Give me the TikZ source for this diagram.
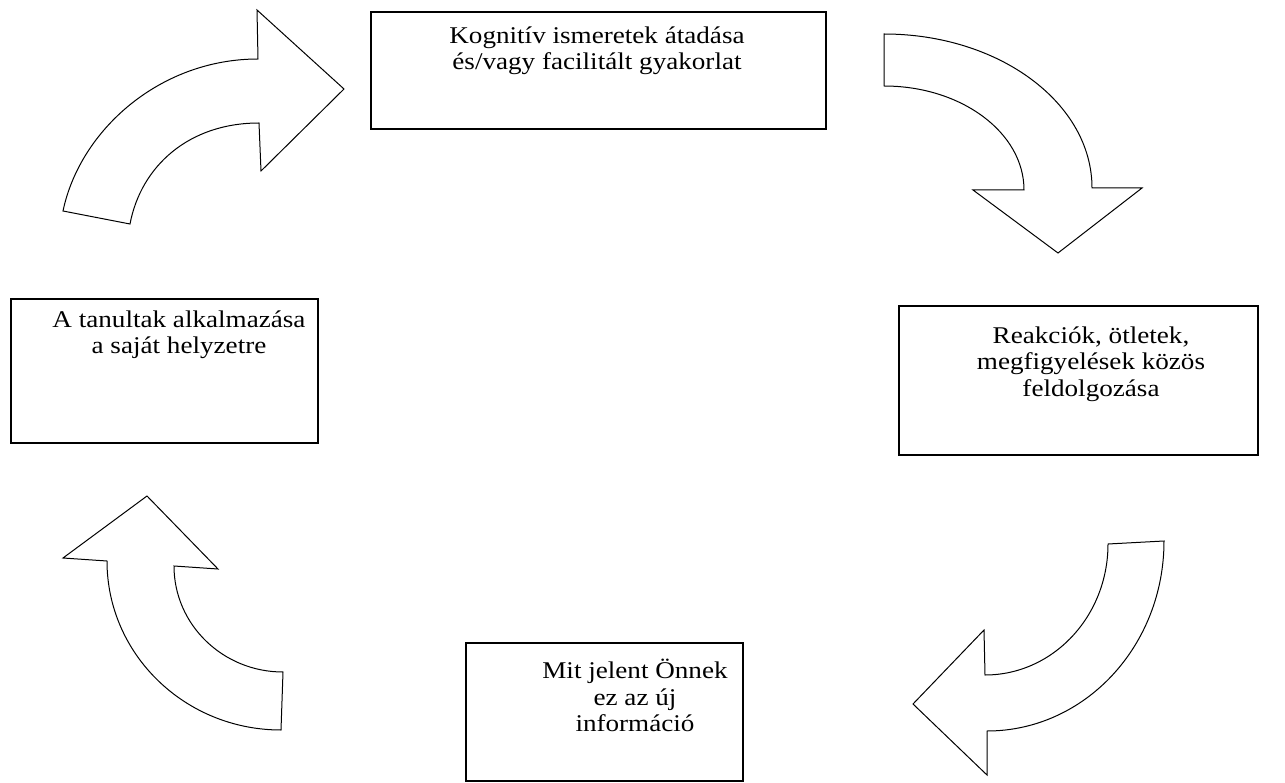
\documentclass[tikz,border=0pt]{standalone}
\usepackage{fontspec}
\setmainfont{Liberation Serif}[FakeStretch=1.13]
\begin{document}
\begin{tikzpicture}[x=1pt,y=-1pt,
  box/.style={draw=black,line width=1.3pt,fill=white,inner sep=0pt},
  txt/.style={anchor=north,align=center,inner sep=0pt,font=\fontsize{24}{26.5}\selectfont},
  bentarrow/.style={draw=black,line width=1pt,fill=white,line join=miter}]
\useasboundingbox (0,0) rectangle (1285,783);
% boxes
\node[box,minimum width=455pt,minimum height=117pt] (k1) at (598.5,70.5) {};
\node[box,minimum width=307pt,minimum height=144pt] (k2) at (164.5,371) {};
\node[box,minimum width=359pt,minimum height=149pt] (k3) at (1078.5,380.5) {};
\node[box,minimum width=277pt,minimum height=138pt] (k4) at (604.5,712) {};
% texts
\node[txt] (t1) at (597,24.5) {\strut Kognitív ismeretek átadása\\és/vagy facilitált gyakorlat};
\node[txt] (t2) at (179,308.5) {\strut A tanultak alkalmazása\\a saját helyzetre};
\node[txt] (t3) at (1091,324.5) {\strut Reakciók, ötletek,\\megfigyelések közös\\feldolgozása};
\node[txt] (t4) at (635,659) {\strut Mit jelent Önnek\\ez az új\\információ};
% curved block arrows
\path[bentarrow] (63,211) .. controls (80,130) and (160,59) .. (258,59)
  -- (257,10) -- (344,89) -- (261,171) -- (259,123)
  .. controls (189,123) and (141,166) .. (130,224) -- cycle;
\path[bentarrow] (884,34) .. controls (998.9,34) and (1092,102.9) .. (1092,188)
  -- (1142,188) -- (1058,253) -- (973,190) -- (1024,190)
  .. controls (1024,132.6) and (961.3,86) .. (884,86) -- cycle;
\path[bentarrow] (1164,541) .. controls (1164,646) and (1084.8,731) .. (987,731)
  -- (987,775) -- (913,704) -- (984,630) -- (985,675)
  .. controls (1052.9,675) and (1108,616.4) .. (1108,544) -- cycle;
\path[bentarrow] (147,496) -- (218,569) -- (174,566)
  .. controls (174,624.5) and (222.8,672) .. (283,672) -- (281,730)
  .. controls (184.9,730) and (107,654.3) .. (107,561) -- (63,558) -- cycle;
\end{tikzpicture}
\end{document}
